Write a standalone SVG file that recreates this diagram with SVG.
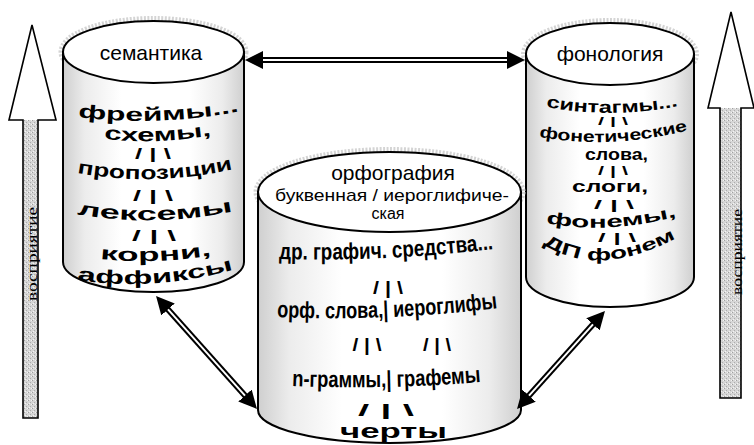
<svg xmlns="http://www.w3.org/2000/svg" width="754" height="445" viewBox="0 0 754 445">
  <style>
    .body { fill: url(#shade); stroke: #000; stroke-width: 2; }
    .lid { fill: #fff; stroke: #000; stroke-width: 2; }
    .halo { fill: none; stroke: #d4d4d4; stroke-width: 6; stroke-dasharray: 2 1.5; }
    .lbl { font-family: "Liberation Sans", Arial, sans-serif; fill: #000; text-anchor: middle; }
    .wa { font-family: "Liberation Sans", Arial, sans-serif; font-weight: bold; fill: #000; }
    .sl { font-family: "Liberation Sans", Arial, sans-serif; font-weight: bold; fill: #000; text-anchor: middle; }
    .vert { font-family: "Liberation Serif", "Times New Roman", serif; font-size: 15px; fill: #000; text-anchor: middle; }
    .shaft-out { stroke: #000; stroke-width: 6; fill: none; marker-start: url(#head); marker-end: url(#head); }
    .shaft-in { stroke: #fff; stroke-width: 2; fill: none; }
    .block { fill: none; stroke: #000; stroke-width: 1.6; stroke-linejoin: miter; }
  </style>
  <defs>
    <linearGradient id="shade" x1="0" y1="0" x2="1" y2="0">
      <stop offset="0" stop-color="#cfcfcf"/>
      <stop offset="0.12" stop-color="#ececec"/>
      <stop offset="0.32" stop-color="#ffffff"/>
      <stop offset="0.7" stop-color="#ffffff"/>
      <stop offset="0.88" stop-color="#ececec"/>
      <stop offset="1" stop-color="#cfcfcf"/>
    </linearGradient>
    <pattern id="grain" width="4" height="4" patternUnits="userSpaceOnUse">
      <rect width="4" height="4" fill="#d6d6d6"/>
      <rect x="0" y="0" width="1" height="1" fill="#a0a0a0"/>
      <rect x="2" y="2" width="1" height="1" fill="#acacac"/>
      <rect x="3" y="0" width="1" height="1" fill="#f4f4f4"/>
      <rect x="1" y="3" width="1" height="1" fill="#f4f4f4"/>
    </pattern>
    <marker id="head" viewBox="0 0 18 18" refX="8" refY="9" markerWidth="18" markerHeight="18" markerUnits="userSpaceOnUse" orient="auto-start-reverse">
      <path d="M0,0 L18,9 L0,18 Z" fill="#000"/>
    </marker>
    <!-- baselines for the arched lettering -->
    <path id="l1" d="M78,117 Q160,127 242,111"/>
    <path id="l2" d="M104,139 Q158,145 213,135"/>
    <path id="l3" d="M77,173 Q155,187 234,169"/>
    <path id="l4" d="M77,214 Q155,228 234,211"/>
    <path id="l5" d="M100,259 Q155,265 212,255"/>
    <path id="l6" d="M77,280 Q155,292 235,269"/>
    <path id="r1" d="M546,107 Q612,119 679,106"/>
    <path id="r2" d="M539,137 Q612,150 689,130"/>
    <path id="r5" d="M546,223 Q610,235 678,216"/>
    <path id="r6" d="M543,244 Q600,280 680,236"/>
    <path id="m1" d="M279,259 Q385,262 494,249"/>
    <path id="m2" d="M277,317 Q385,322 498,308"/>
    <path id="m3" d="M292,386 Q385,390 481,382"/>
  </defs>

  <rect width="754" height="445" fill="#fff"/>

  <!-- perception arrows -->
  <g id="perception-left">
    <rect x="23" y="120" width="15" height="298" fill="url(#grain)"/>
    <polygon points="32,25 56,120 9,120" fill="#fff"/>
    <polygon class="block" points="32,25 56,120 38,120 38,418 23,418 23,120 9,120"/>
    <text class="vert" transform="translate(37,254) rotate(-90)" textLength="94" lengthAdjust="spacingAndGlyphs">восприятие</text>
  </g>
  <g id="perception-right">
    <rect x="720" y="108" width="21" height="290" fill="url(#grain)"/>
    <polygon points="731,12 754,108 708,108" fill="#fff"/>
    <polygon class="block" points="731,12 754,108 741,108 741,398 720,398 720,108 708,108"/>
    <text class="vert" transform="translate(742,252) rotate(-90)" textLength="86" lengthAdjust="spacingAndGlyphs">восприятие</text>
  </g>

  <!-- semantics -->
  <g id="semantics">
    <ellipse class="halo" cx="153.5" cy="52" rx="92" ry="33"/>
    <path class="body" d="M63,52 L63,262 A90.5,30 0 0 0 244,262 L244,52 Z"/>
    <ellipse class="lid" cx="153.5" cy="52" rx="90.5" ry="31"/>
    <text class="lbl" x="151" y="60" font-size="21">семантика</text>
    <text class="wa" font-size="19"><textPath href="#l1" textLength="162" lengthAdjust="spacingAndGlyphs">фреймы...</textPath></text>
    <text class="wa" font-size="19"><textPath href="#l2" textLength="108" lengthAdjust="spacingAndGlyphs">схемы,</textPath></text>
    <text class="sl" x="153" y="159" font-size="14" textLength="36" lengthAdjust="spacingAndGlyphs">/ | \</text>
    <text class="wa" font-size="19"><textPath href="#l3" textLength="157" lengthAdjust="spacingAndGlyphs">пропозиции</textPath></text>
    <text class="sl" x="153" y="201" font-size="14" textLength="40" lengthAdjust="spacingAndGlyphs">/ | \</text>
    <text class="wa" font-size="19"><textPath href="#l4" textLength="157" lengthAdjust="spacingAndGlyphs">лексемы</textPath></text>
    <text class="sl" x="154" y="241" font-size="14" textLength="44" lengthAdjust="spacingAndGlyphs">/ | \</text>
    <text class="wa" font-size="19"><textPath href="#l5" textLength="112" lengthAdjust="spacingAndGlyphs">корни,</textPath></text>
    <text class="wa" font-size="19"><textPath href="#l6" textLength="158" lengthAdjust="spacingAndGlyphs">аффиксы</textPath></text>
  </g>

  <!-- phonology -->
  <g id="phonology">
    <ellipse class="halo" cx="610" cy="54" rx="86" ry="33"/>
    <path class="body" d="M526,54 L526,277 A84,30 0 0 0 694,277 L694,54 Z"/>
    <ellipse class="lid" cx="610" cy="54" rx="84" ry="31"/>
    <text class="lbl" x="610" y="61" font-size="21">фонология</text>
    <text class="wa" font-size="17"><textPath href="#r1" textLength="133" lengthAdjust="spacingAndGlyphs">синтагмы...</textPath></text>
    <text class="sl" x="613" y="125" font-size="10" textLength="30" lengthAdjust="spacingAndGlyphs">/ | \</text>
    <text class="wa" font-size="16"><textPath href="#r2" textLength="150" lengthAdjust="spacingAndGlyphs">фонетические</textPath></text>
    <text class="wa" x="585" y="160" font-size="16" textLength="63" lengthAdjust="spacingAndGlyphs">слова,</text>
    <text class="sl" x="613" y="175" font-size="12" textLength="30" lengthAdjust="spacingAndGlyphs">/ | \</text>
    <text class="wa" x="572" y="192" font-size="16" textLength="76" lengthAdjust="spacingAndGlyphs">слоги,</text>
    <text class="sl" x="614" y="209" font-size="13" textLength="40" lengthAdjust="spacingAndGlyphs">/ | \</text>
    <text class="wa" font-size="17"><textPath href="#r5" textLength="132" lengthAdjust="spacingAndGlyphs">фонемы,</textPath></text>
    <text class="sl" x="617" y="242" font-size="12" textLength="38" lengthAdjust="spacingAndGlyphs">/ | \</text>
    <text class="wa" font-size="17"><textPath href="#r6" textLength="140" lengthAdjust="spacingAndGlyphs">ДП фонем</textPath></text>
  </g>

  <!-- orthography -->
  <g id="orthography">
    <ellipse class="halo" cx="389.5" cy="192" rx="133" ry="42"/>
    <path class="body" d="M258,192 L258,410 A131.5,33 0 0 0 521,410 L521,192 Z"/>
    <ellipse class="lid" cx="389.5" cy="192" rx="131.5" ry="40"/>
    <text class="lbl" x="393" y="180" font-size="21">орфография</text>
    <text class="lbl" x="392" y="201" font-size="17" textLength="234" lengthAdjust="spacingAndGlyphs">буквенная / иероглифиче-</text>
    <text class="lbl" x="388" y="219" font-size="16">ская</text>
    <text class="wa" font-size="23"><textPath href="#m1" textLength="215" lengthAdjust="spacingAndGlyphs">др. графич. средства...</textPath></text>
    <text class="sl" x="388" y="294" font-size="18" textLength="30" lengthAdjust="spacingAndGlyphs">/ | \</text>
    <text class="wa" font-size="23"><textPath href="#m2" textLength="221" lengthAdjust="spacingAndGlyphs">орф. слова,| иероглифы</textPath></text>
    <text class="sl" x="367" y="351" font-size="18" textLength="29" lengthAdjust="spacingAndGlyphs">/ | \</text>
    <text class="sl" x="437" y="351" font-size="18" textLength="28" lengthAdjust="spacingAndGlyphs">/ | \</text>
    <text class="wa" font-size="23"><textPath href="#m3" textLength="189" lengthAdjust="spacingAndGlyphs">n-граммы,| графемы</textPath></text>
    <text class="sl" x="386" y="416" font-size="16" textLength="56" lengthAdjust="spacingAndGlyphs">/ | \</text>
    <text class="wa" x="340" y="438" font-size="21" textLength="107" lengthAdjust="spacingAndGlyphs">черты</text>
  </g>

  <!-- two-headed links between the levels -->
  <g id="connectors">
    <line class="shaft-out" x1="255" y1="60" x2="515" y2="60"/>
    <line class="shaft-in" x1="263" y1="60" x2="507" y2="60"/>
    <line class="shaft-out" x1="162.7" y1="303.5" x2="250.3" y2="401.5"/>
    <line class="shaft-in" x1="168" y1="309.4" x2="245" y2="395.6"/>
    <line class="shaft-out" x1="598.3" y1="318.4" x2="523.7" y2="401.6"/>
    <line class="shaft-in" x1="593" y1="324.4" x2="529" y2="395.6"/>
  </g>
</svg>
